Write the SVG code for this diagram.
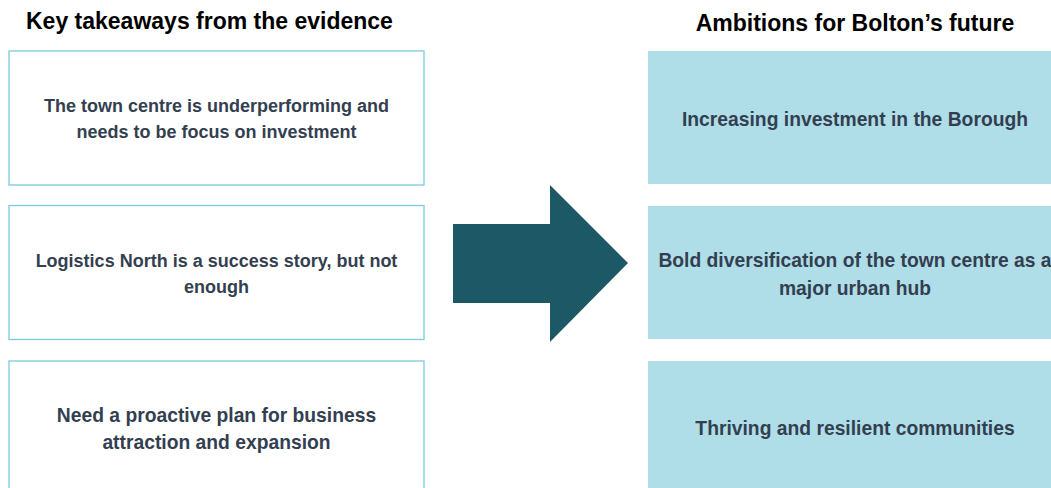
<svg xmlns="http://www.w3.org/2000/svg" width="1051" height="488" viewBox="0 0 1051 488">
<style>
.title{font-family:"Liberation Sans",Arial,sans-serif;font-weight:bold;font-size:23px;fill:#000}
.lbl{font-family:"Liberation Sans",Arial,sans-serif;font-weight:bold;font-size:18px;fill:#333F50;text-anchor:middle}
.big{font-size:19.3px}
.lbox{fill:#fff;stroke:#7ACCDC;stroke-width:1.3}
.rbox{fill:#B0DEE8}
.arrow{fill:#1C5866}
</style>
<rect width="1051" height="488" fill="#fff"/>
<text class="title" x="26" y="29">Key takeaways from the evidence</text>
<text class="title" x="855" y="31" text-anchor="middle">Ambitions for Bolton’s future</text>
<g id="l1">
<rect class="lbox" x="9" y="51" width="415" height="134"/>
<text class="lbl" x="216.5" y="112">The town centre is underperforming and</text>
<text class="lbl" x="216.5" y="138">needs to be focus on investment</text>
</g>
<g id="l2">
<rect class="lbox" x="9" y="205.5" width="415" height="134"/>
<text class="lbl" x="216.5" y="267">Logistics North is a success story, but not</text>
<text class="lbl" x="216.5" y="293">enough</text>
</g>
<g id="l3">
<rect class="lbox" x="9" y="361" width="415" height="134"/>
<text class="lbl big" x="216.5" y="421.5">Need a proactive plan for business</text>
<text class="lbl big" x="216.5" y="449">attraction and expansion</text>
</g>
<g id="connectors">
<polygon class="arrow" points="453,224 550,224 550,185 628,263 550,342 550,303 453,303"/>
</g>
<g id="r1">
<rect class="rbox" x="648" y="51" width="415" height="133"/>
<text class="lbl big" x="855" y="126">Increasing investment in the Borough</text>
</g>
<g id="r2">
<rect class="rbox" x="648" y="206" width="415" height="133"/>
<text class="lbl big" x="855" y="267">Bold diversification of the town centre as a</text>
<text class="lbl big" x="855" y="295">major urban hub</text>
</g>
<g id="r3">
<rect class="rbox" x="648" y="361" width="415" height="133"/>
<text class="lbl big" x="855" y="435">Thriving and resilient communities</text>
</g>
</svg>
